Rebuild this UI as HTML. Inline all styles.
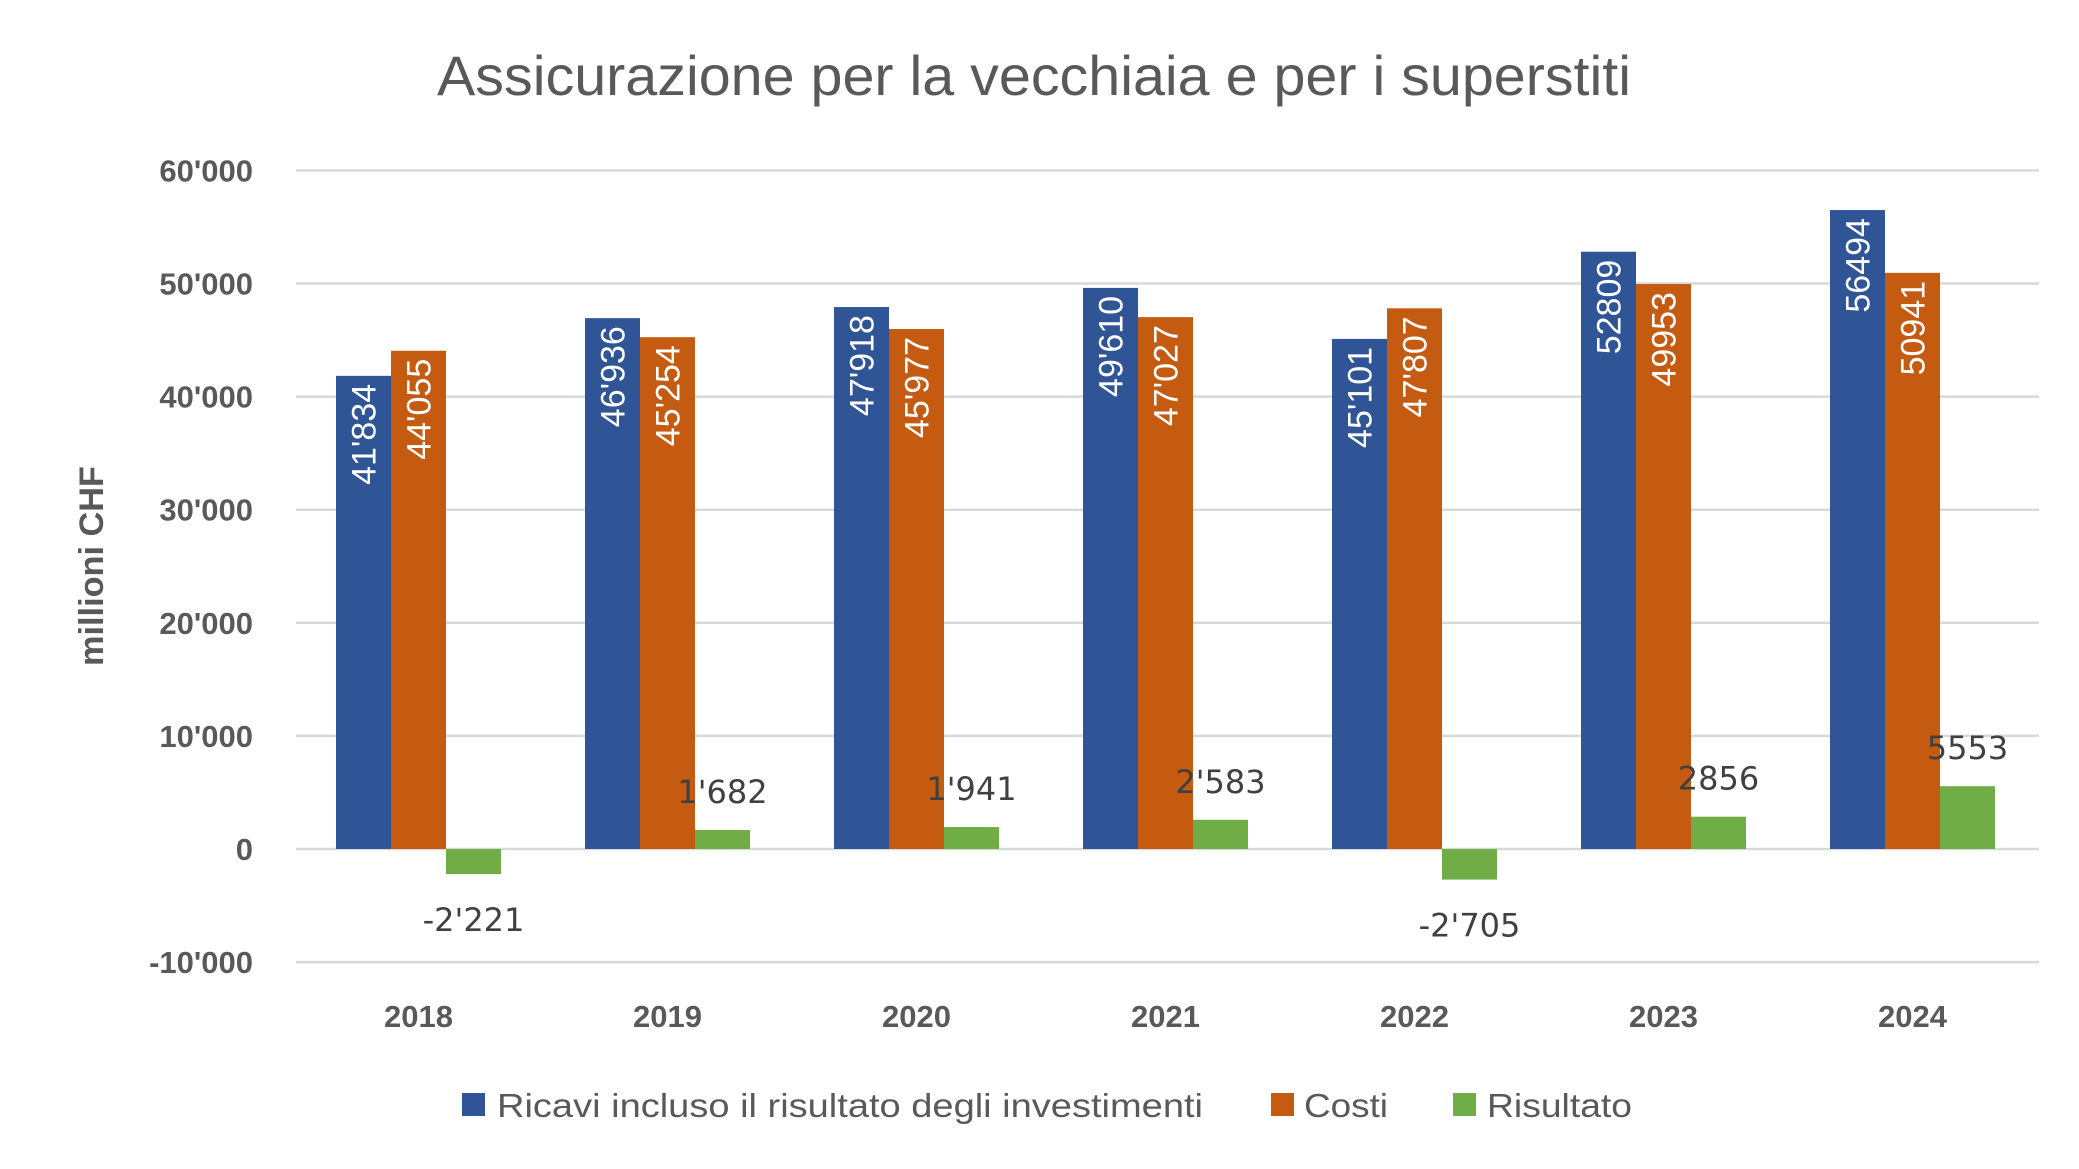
<!DOCTYPE html>
<html><head><meta charset="utf-8"><style>
html,body{margin:0;padding:0;background:#fff;}
svg{display:block;font-family:"Liberation Sans Narrow","Liberation Sans",sans-serif;}
</style></head><body>
<svg id="chart" width="2079" height="1169" viewBox="0 0 2079 1169">
<text x="1034" y="95" text-anchor="middle" font-size="56" fill="#595959" textLength="1194" lengthAdjust="spacingAndGlyphs">Assicurazione per la vecchiaia e per i superstiti</text>
<text transform="translate(103,566) rotate(-90)" text-anchor="middle" font-size="34" font-weight="bold" fill="#595959" textLength="200" lengthAdjust="spacingAndGlyphs">millioni CHF</text>
<g id="grid"></g><g id="bars"></g><g id="labels"></g>
<g>
<rect x="462" y="1093" width="23" height="23" fill="#2F5597"/>
<text x="497" y="1117" font-size="33" fill="#595959" textLength="706" lengthAdjust="spacingAndGlyphs">Ricavi incluso il risultato degli investimenti</text>
<rect x="1271" y="1093" width="23" height="23" fill="#C55A11"/>
<text x="1304" y="1117" font-size="33" fill="#595959" textLength="84" lengthAdjust="spacingAndGlyphs">Costi</text>
<rect x="1453" y="1093" width="23" height="23" fill="#70AD47"/>
<text x="1487" y="1117" font-size="33" fill="#595959" textLength="145" lengthAdjust="spacingAndGlyphs">Risultato</text>
</g>
</svg>
<script>
const categories = ["2018","2019","2020","2021","2022","2023","2024"];
const ricavi = [41834,46936,47918,49610,45101,52809,56494];
const costi = [44055,45254,45977,47027,47807,49953,50941];
const risultato = [-2221,1682,1941,2583,-2705,2856,5553];
const ricaviLabels = ["41'834","46'936","47'918","49'610","45'101","52809","56494"];
const costiLabels = ["44'055","45'254","45'977","47'027","47'807","49953","50941"];
const risultatoLabels = ["-2'221","1'682","1'941","2'583","-2'705","2856","5553"];
const yTicks = [-10000,0,10000,20000,30000,40000,50000,60000];
const yTickLabels = ["-10'000","0","10'000","20'000","30'000","40'000","50'000","60'000"];

const NS="http://www.w3.org/2000/svg";
const plotL=296, plotR=2039, y0=849, pxPer=113.1/10000;
const y=v=>y0-v*pxPer;
const groupW=(plotR-plotL)/categories.length;
const barW=55;
const xBar=(i,s)=>plotL+groupW*i+groupW/2-1.5*barW+s*barW-2;
function mk(tag,attrs,parent,text){const e=document.createElementNS(NS,tag);for(const k in attrs)e.setAttribute(k,attrs[k]);if(text!==undefined)e.textContent=text;parent.appendChild(e);return e;}
const grid=document.getElementById('grid'),bars=document.getElementById('bars'),labels=document.getElementById('labels');
yTicks.forEach((t,i)=>{
  const l=mk('line',{x1:plotL,x2:plotR,y1:y(t),y2:y(t),stroke:'#D9D9D9','stroke-width':2.5},grid);
  
  
  const tx=mk('text',{x:253,y:y(t)+11,'text-anchor':'end','font-size':31,'font-weight':'bold',fill:'#595959'},grid,yTickLabels[i]);
  
  
});
categories.forEach((c,i)=>{
  const tx=mk('text',{x:plotL+groupW*i+groupW/2-2,y:1027,'text-anchor':'middle','font-size':31,'font-weight':'bold',fill:'#595959'},labels,c);
  
  
});
const series=[[ricavi,'#2F5597',ricaviLabels,'ricavi'],[costi,'#C55A11',costiLabels,'costi']];
series.forEach(([vals,col,labs,nm],s)=>{
  vals.forEach((v,i)=>{
    const x=xBar(i,s);
    const r=mk('rect',{x:x,y:y(v),width:barW,height:y0-y(v),fill:col},bars);
    
    
    const cx=x+barW/2+12, ty=y(v)+8;
    const t=mk('text',{transform:`translate(${cx},${ty}) rotate(-90)`,'text-anchor':'end','font-size':34,fill:'#fff'},labels,labs[i]);
    
    
  });
});
risultato.forEach((v,i)=>{
  const x=xBar(i,2);
  const top=Math.min(y(v),y0), h=Math.abs(y(v)-y0);
  const r=mk('rect',{x:x,y:top,width:barW,height:h,fill:'#70AD47'},bars);
  
  
  const ly = v>=0 ? y(v)-27 : y(v)+57;
  const t=mk('text',{x:x+barW/2,y:ly,'text-anchor':'middle','font-size':32,fill:'#404040','font-family':'"DejaVu Sans","Liberation Sans",sans-serif'},labels,risultatoLabels[i]);
  
  
});
</script>
</body></html>
